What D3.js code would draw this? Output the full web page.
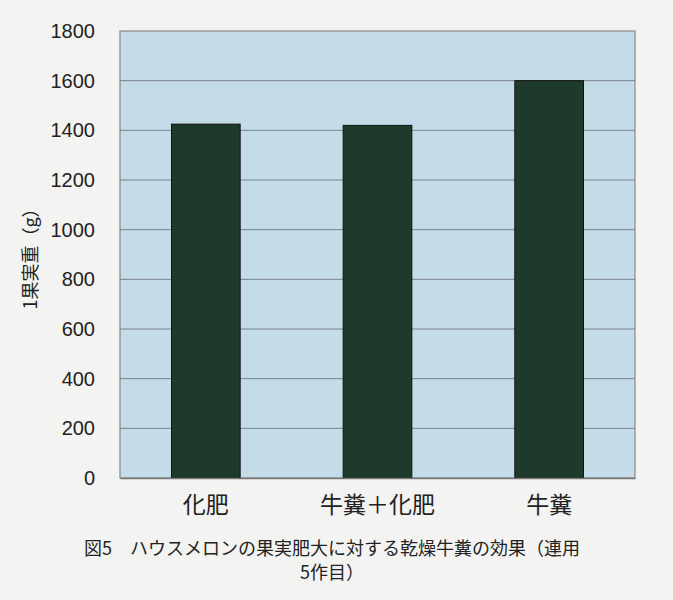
<!DOCTYPE html>
<html>
<head>
<meta charset="utf-8">
<script src="https://cdn.jsdelivr.net/npm/d3@7"></script>
<style>
body { margin: 0; background: #f3f3f1; }
svg { display: block; }
</style>
</head>
<body>
<svg id="chart"></svg>
<script>
// data
var categories = ["化肥", "牛糞＋化肥", "牛糞"];
var weights = [1425, 1420, 1600];
var yTicks = [0, 200, 400, 600, 800, 1000, 1200, 1400, 1600, 1800];
var captionLines = ["図5　ハウスメロンの果実肥大に対する乾燥牛糞の効果（連用", "5作目）"];

var svgWidth = 673, svgHeight = 600;
var margin = {top: 31, right: 38, bottom: 122, left: 120};
var width = svgWidth - margin.left - margin.right;
var height = svgHeight - margin.top - margin.bottom;

var svg = d3.select("#chart").attr("width", svgWidth).attr("height", svgHeight);
var g = svg.append("g").attr("transform", "translate(" + margin.left + "," + margin.top + ")");

var x = d3.scaleBand().domain(categories).range([0, width]).paddingInner(0.6).paddingOuter(0.3);
var y = d3.scaleLinear().domain([0, 1800]).range([height, 0]);

// plot area
g.append("rect").attr("width", width).attr("height", height)
    .attr("fill", "#c4dce8").attr("stroke", "#888").attr("stroke-width", 1.2);

// gridlines
g.selectAll(".grid").data(yTicks.filter(function (d) { return d > 0 && d < 1800; }))
    .enter().append("line")
    .attr("x1", 0).attr("x2", width)
    .attr("y1", function (d) { return y(d); }).attr("y2", function (d) { return y(d); })
    .attr("stroke", "#7a8286").attr("stroke-width", 1);

// bars
g.selectAll(".bar").data(weights).enter().append("rect")
    .attr("x", function (d, i) { return x(categories[i]); })
    .attr("width", x.bandwidth())
    .attr("y", function (d) { return y(d); })
    .attr("height", function (d) { return height - y(d); })
    .attr("fill", "#1d3a2b").attr("stroke", "#111").attr("stroke-width", 1);

// y axis
var yAxis = g.append("g").call(d3.axisLeft(y).tickValues(yTicks).tickFormat(d3.format("d")).tickSize(0).tickPadding(25));
yAxis.select(".domain").remove();
yAxis.selectAll("text").attr("font-family", "'Liberation Sans', Arial, sans-serif")
    .attr("font-size", "20px").attr("fill", "#222");

// x axis
var xAxis = g.append("g").attr("transform", "translate(0," + height + ")")
    .call(d3.axisBottom(x).tickSize(0).tickPadding(19));
xAxis.select(".domain").attr("stroke", "#777").attr("stroke-width", 1.5);
xAxis.selectAll("text").attr("font-family", "'Noto Sans CJK JP', sans-serif")
    .attr("font-size", "23px").attr("fill", "#222");

// y label
svg.append("text")
    .attr("transform", "translate(37," + (margin.top + height / 2) + ") rotate(-90)")
    .attr("text-anchor", "middle")
    .attr("font-family", "'Noto Sans CJK JP', sans-serif")
    .attr("font-size", "18px").attr("fill", "#222")
    .text("1果実重（g）");

// caption
svg.selectAll(".cap").data(captionLines).enter().append("text")
    .attr("x", 332).attr("y", function (d, i) { return 555 + i * 24; })
    .attr("text-anchor", "middle")
    .attr("font-family", "'Noto Sans CJK JP', sans-serif")
    .attr("font-size", "18px").attr("fill", "#222")
    .text(function (d) { return d; });
</script>
</body>
</html>
